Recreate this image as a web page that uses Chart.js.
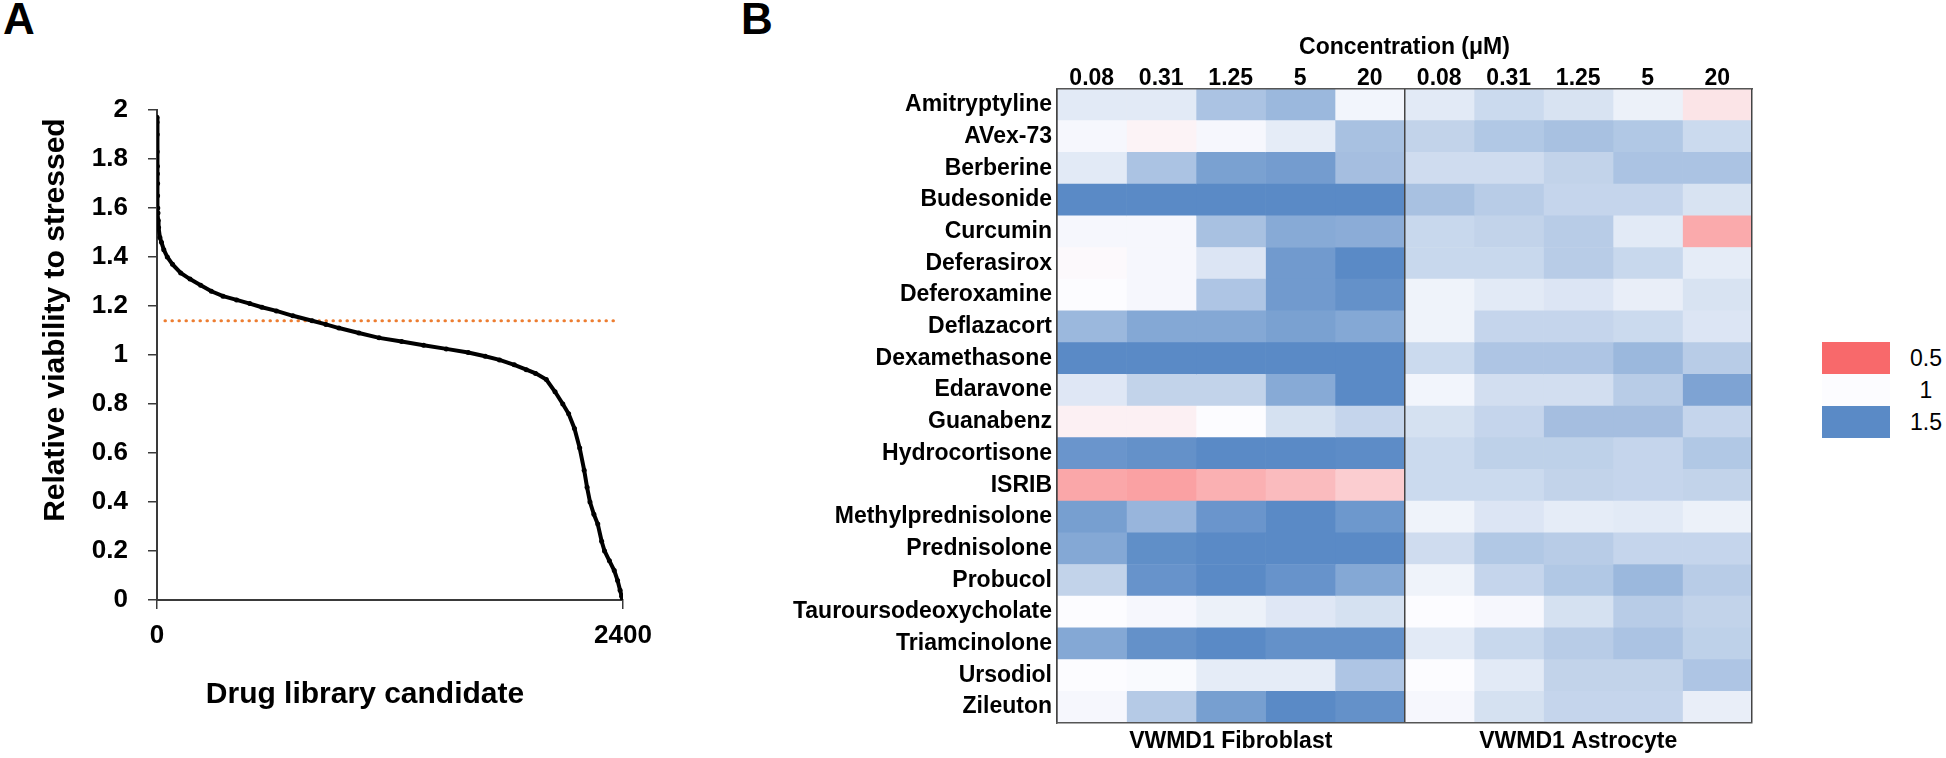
<!DOCTYPE html>
<html lang="en">
<head>
    <meta charset="UTF-8">
    <title>Drug screen viability and concentration heatmap</title>
    <script src="https://cdn.jsdelivr.net/npm/chart.js@4"></script>
    <style>
        body {
            margin: 0;
            background: #fff;
            font-family: 'Liberation Sans', Arial, sans-serif;
            color: #000;
        }

        .page {
            position: relative;
            width: 1946px;
            height: 758px;
            overflow: hidden;
        }

        canvas {
            position: absolute;
        }

        .panel-tag {
            position: absolute;
            top: -3px;
            font-size: 44px;
            font-weight: bold;
            line-height: 1;
        }

        .legend {
            position: absolute;
            left: 1822px;
            top: 342px;
        }

        .legend-row {
            display: flex;
            align-items: center;
            height: 32px;
        }

        .swatch {
            width: 68px;
            height: 32px;
        }

        .legend-row span {
            width: 40px;
            margin-left: 16px;
            text-align: center;
            font-size: 23px;
        }
    </style>
</head>
<body>
<div class="page">
    <div class="panel-tag" style="left: 3px;">A</div>
    <div class="panel-tag" style="left: 741px;">B</div>

    <canvas id="screen-chart" width="700" height="758" style="left: 0; top: 0;"></canvas>
    <canvas id="heatmap-chart" width="1000" height="758" style="left: 760px; top: 0;"></canvas>

    <!-- colour scale key -->
    <div class="legend" id="legend"></div>
</div>

<script>
    // ---- panel A: ranked drug library ----
    const candidateRank = [0, 0, 1, 1, 2, 2, 3, 3, 4, 5, 6, 8, 15, 23, 35, 53, 80, 122, 170, 225, 280, 340,
        410, 478, 540, 615, 700, 799, 870, 937, 1040, 1144, 1260, 1373, 1490, 1603, 1690, 1764, 1840, 1902,
        1950, 2005, 2050, 2090, 2120, 2150, 2177, 2200, 2215, 2230, 2250, 2270, 2290, 2305, 2330, 2355,
        2372, 2385, 2393, 2397];
    const viability = [1.97, 1.95, 1.90, 1.83, 1.77, 1.74, 1.70, 1.65, 1.60, 1.58, 1.55, 1.52, 1.48, 1.46,
        1.43, 1.40, 1.37, 1.335, 1.31, 1.285, 1.26, 1.24, 1.225, 1.21, 1.195, 1.18, 1.16, 1.14, 1.125, 1.11,
        1.09, 1.07, 1.055, 1.04, 1.025, 1.01, 0.995, 0.98, 0.96, 0.94, 0.925, 0.90, 0.85, 0.80, 0.76, 0.70,
        0.62, 0.53, 0.46, 0.40, 0.35, 0.31, 0.24, 0.20, 0.16, 0.12, 0.08, 0.04, 0.015, 0];
    const cutoffRank = [41, 2384];
    const cutoffValue = 1.14;
    const rankTicks = [0, 2400];

    // ---- panel B: heatmap ----
    const drugs = ['Amitryptyline', 'AVex-73', 'Berberine', 'Budesonide', 'Curcumin', 'Deferasirox',
        'Deferoxamine', 'Deflazacort', 'Dexamethasone', 'Edaravone', 'Guanabenz', 'Hydrocortisone', 'ISRIB',
        'Methylprednisolone', 'Prednisolone', 'Probucol', 'Tauroursodeoxycholate', 'Triamcinolone',
        'Ursodiol', 'Zileuton'];
    const concentrations = ['0.08', '0.31', '1.25', '5', '20'];
    const cellLines = ['VWMD1 Fibroblast', 'VWMD1 Astrocyte'];

    const fibroblast = [
        [1.08, 1.08, 1.25, 1.30, 1.03],
        [1.02, 0.97, 1.02, 1.07, 1.26],
        [1.08, 1.25, 1.40, 1.42, 1.27],
        [1.50, 1.50, 1.50, 1.50, 1.50],
        [1.02, 1.02, 1.26, 1.36, 1.35],
        [0.99, 1.02, 1.10, 1.43, 1.50],
        [1.00, 1.02, 1.24, 1.43, 1.47],
        [1.30, 1.37, 1.37, 1.40, 1.37],
        [1.50, 1.50, 1.50, 1.50, 1.50],
        [1.09, 1.18, 1.18, 1.36, 1.50],
        [0.96, 0.96, 1.00, 1.12, 1.17],
        [1.45, 1.47, 1.50, 1.50, 1.49],
        [0.71, 0.69, 0.74, 0.78, 0.84],
        [1.41, 1.31, 1.45, 1.50, 1.44],
        [1.37, 1.48, 1.50, 1.50, 1.50],
        [1.18, 1.46, 1.50, 1.46, 1.37],
        [1.00, 1.02, 1.05, 1.09, 1.12],
        [1.37, 1.47, 1.50, 1.47, 1.47],
        [1.00, 1.01, 1.07, 1.07, 1.24],
        [1.02, 1.22, 1.41, 1.50, 1.47]
    ];
    const astrocyte = [
        [1.08, 1.15, 1.11, 1.05, 0.92],
        [1.18, 1.23, 1.26, 1.23, 1.15],
        [1.14, 1.14, 1.18, 1.25, 1.25],
        [1.26, 1.21, 1.17, 1.17, 1.11],
        [1.16, 1.18, 1.21, 1.08, 0.72],
        [1.16, 1.16, 1.21, 1.16, 1.07],
        [1.04, 1.08, 1.10, 1.06, 1.11],
        [1.04, 1.17, 1.17, 1.15, 1.10],
        [1.15, 1.24, 1.24, 1.30, 1.21],
        [1.03, 1.13, 1.13, 1.21, 1.39],
        [1.12, 1.17, 1.27, 1.27, 1.17],
        [1.15, 1.19, 1.19, 1.17, 1.23],
        [1.15, 1.15, 1.18, 1.17, 1.18],
        [1.04, 1.10, 1.07, 1.08, 1.05],
        [1.14, 1.23, 1.21, 1.17, 1.17],
        [1.04, 1.17, 1.23, 1.30, 1.21],
        [1.00, 1.02, 1.12, 1.21, 1.18],
        [1.08, 1.16, 1.21, 1.25, 1.19],
        [1.00, 1.08, 1.18, 1.18, 1.24],
        [1.02, 1.12, 1.17, 1.17, 1.06]
    ];
    const scaleStops = [0.5, 1, 1.5];

    const stopColours = [[248, 105, 107], [252, 252, 255], [90, 138, 198]];

    function cellColour(v) {
        const c = Math.max(scaleStops[0], Math.min(scaleStops[2], v));
        const k = c < scaleStops[1] ? 0 : 1;
        const t = (c - scaleStops[k]) / (scaleStops[k + 1] - scaleStops[k]);
        const a = stopColours[k], b = stopColours[k + 1];
        return 'rgb(' + a.map((x, i) => Math.round(x + (b[i] - x) * t)).join(',') + ')';
    }

    Chart.defaults.font.family = "'Liberation Sans', Arial, sans-serif";
    Chart.defaults.color = '#000';

    const axisGrey = '#3a3a3a';

    new Chart(document.getElementById('screen-chart'), {
        type: 'scatter',
        data: {
            datasets: [
                {
                    data: candidateRank.map((x, i) => ({ x: x, y: viability[i] })),
                    showLine: true,
                    borderColor: '#000',
                    backgroundColor: '#000',
                    borderWidth: 4,
                    pointRadius: 2.5,
                    pointBorderWidth: 0
                },
                {
                    data: cutoffRank.map(x => ({ x: x, y: cutoffValue })),
                    showLine: true,
                    borderColor: '#ED7D31',
                    borderWidth: 3,
                    borderDash: [0.5, 6.5],
                    borderCapStyle: 'round',
                    pointRadius: 0
                }
            ]
        },
        options: {
            responsive: false,
            animation: false,
            devicePixelRatio: 1,
            layout: { padding: { top: 110, right: 77 } },
            plugins: { legend: { display: false }, tooltip: { enabled: false } },
            scales: {
                x: {
                    type: 'linear',
                    min: 0,
                    max: 2400,
                    afterBuildTicks: s => { s.ticks = rankTicks.map(v => ({ value: v })); },
                    afterFit: s => { s.height = 158; },
                    grid: { drawOnChartArea: false, tickLength: 9, color: axisGrey, lineWidth: 1.5 },
                    border: { color: axisGrey, width: 2 },
                    ticks: {
                        padding: 11,
                        autoSkip: false,
                        maxRotation: 0,
                        font: { size: 26, weight: 'bold' },
                        callback: v => String(v)
                    },
                    title: {
                        display: true,
                        // trailing spaces nudge the centred title left, as in the original
                        text: 'Drug library candidate\u00a0\u00a0\u00a0\u00a0\u00a0\u00a0',
                        font: { size: 30, weight: 'bold', lineHeight: 1 },
                        padding: { top: 0, bottom: 48 }
                    }
                },
                y: {
                    min: 0,
                    max: 2,
                    afterFit: s => { s.width = 157; },
                    grid: { drawOnChartArea: false, tickLength: 9, color: axisGrey, lineWidth: 1.5 },
                    border: { color: axisGrey, width: 2 },
                    ticks: {
                        stepSize: 0.2,
                        padding: 20,
                        font: { size: 26, weight: 'bold' },
                        callback: v => String(Number(v.toFixed(1)))
                    },
                    title: {
                        display: true,
                        text: 'Relative viability to stressed\u00a0',
                        align: 'end',
                        font: { size: 30, weight: 'bold', lineHeight: 1 },
                        padding: { top: 41, bottom: 0 }
                    }
                }
            }
        }
    });

    // one floating-bar dataset per concentration column
    const columnValues = [];
    fibroblast[0].forEach((_, j) => columnValues.push(fibroblast.map(r => r[j])));
    astrocyte[0].forEach((_, j) => columnValues.push(astrocyte.map(r => r[j])));
    const columnLabels = cellLines.flatMap(() => concentrations);
    const columnCentres = columnLabels.map((_, j) => j + 0.5);
    const groupTicks = [0, 2.5, 5, 7.5, 10];

    const heatDatasets = columnValues.map((vals, j) => ({
        data: vals.map(() => [j, j + 1]),
        backgroundColor: vals.map(cellColour),
        xAxisID: 'x',
        yAxisID: 'y'
    }));

    const heatFont = { size: 23, weight: 'bold' };

    new Chart(document.getElementById('heatmap-chart'), {
        type: 'bar',
        data: { labels: drugs, datasets: heatDatasets },
        options: {
            indexAxis: 'y',
            responsive: false,
            animation: false,
            devicePixelRatio: 1,
            layout: { padding: { right: 8 } },
            plugins: { legend: { display: false }, tooltip: { enabled: false } },
            datasets: {
                bar: { barPercentage: 1, categoryPercentage: 1, grouped: false, borderWidth: 0 }
            },
            scales: {
                y: {
                    type: 'category',
                    position: 'left',
                    afterFit: s => { s.width = 297; },
                    grid: { display: false, drawTicks: false },
                    border: { display: true, color: '#555', width: 1.5, z: 1 },
                    ticks: { padding: 5, autoSkip: false, font: heatFont }
                },
                x: {
                    type: 'linear',
                    position: 'top',
                    min: 0,
                    max: 10,
                    afterBuildTicks: s => { s.ticks = columnCentres.map(v => ({ value: v })); },
                    afterFit: s => { s.height = 89; },
                    grid: { display: false, drawTicks: false },
                    border: { display: true, color: '#555', width: 1.5, z: 1 },
                    ticks: {
                        padding: -3,
                        autoSkip: false,
                        maxRotation: 0,
                        font: heatFont,
                        callback: (v, i) => columnLabels[i]
                    },
                    title: {
                        display: true,
                        text: 'Concentration (μM)',
                        font: { size: 23, weight: 'bold', lineHeight: 1 },
                        padding: { top: 36, bottom: 0 }
                    }
                },
                xg: {
                    axis: 'x',
                    type: 'linear',
                    position: 'bottom',
                    min: 0,
                    max: 10,
                    afterBuildTicks: s => { s.ticks = groupTicks.map(v => ({ value: v })); },
                    afterFit: s => { s.height = 35; },
                    grid: {
                        drawTicks: false,
                        z: 1,
                        lineWidth: 1.5,
                        color: c => (c.tick && c.tick.value % 5 === 0) ? '#444' : 'rgba(0,0,0,0)'
                    },
                    border: { display: true, color: '#555', width: 1.5, z: 1 },
                    ticks: {
                        padding: 5,
                        autoSkip: false,
                        maxRotation: 0,
                        font: heatFont,
                        callback: v => v === 2.5 ? cellLines[0] : (v === 7.5 ? cellLines[1] : '')
                    }
                }
            }
        }
    });

    // colour key beside the heatmap
    const legendBox = document.getElementById('legend');
    scaleStops.forEach(v => {
        const row = document.createElement('div');
        row.className = 'legend-row';
        row.innerHTML = `<div class="swatch" style="background:${cellColour(v)}"></div><span>${v}</span>`;
        legendBox.appendChild(row);
    });
</script>
</body>
</html>
